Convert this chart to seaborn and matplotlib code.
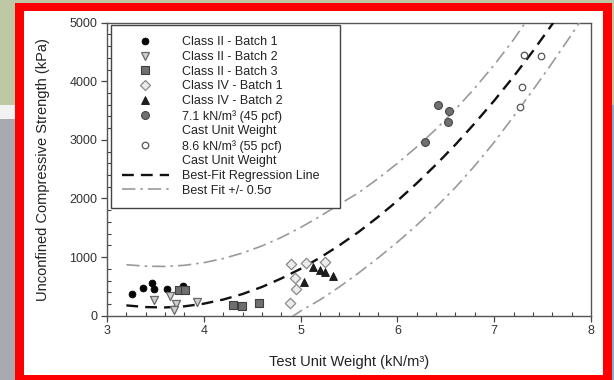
import numpy as np
import pandas as pd
import matplotlib
matplotlib.use("Agg")
import matplotlib.pyplot as plt
import seaborn as sns
from matplotlib.lines import Line2D
from matplotlib.patches import Rectangle
from matplotlib.ticker import MultipleLocator

# ---------------- data ----------------
c2b1_x = [3.26, 3.37, 3.47, 3.49, 3.62, 3.78]
c2b1_y = [372, 470, 560, 452, 450, 512]
c2b2_x = [3.49, 3.65, 3.71, 3.69, 3.93]
c2b2_y = [260, 344, 194, 100, 239]
c2b3_x = [3.74, 3.81, 4.30, 4.39, 4.57]
c2b3_y = [432, 446, 186, 170, 210]
c4b1_x = [4.90, 5.055, 5.25, 4.945, 4.955, 4.895]
c4b1_y = [885, 905, 918, 638, 460, 215]
c4b2_x = [5.03, 5.125, 5.20, 5.255, 5.335]
c4b2_y = [582, 836, 782, 750, 680]
cast71_x = [6.415, 6.528, 6.527, 6.288]
cast71_y = [3595, 3485, 3302, 2968]
cast86_x = [7.31, 7.485, 7.29, 7.268]
cast86_y = [4448, 4440, 3897, 3564]

fit_x = [3.2, 3.4, 3.6, 3.8, 4.0, 4.2, 4.4, 4.6, 4.8, 5.0, 5.2, 5.4, 5.6, 5.8,
         6.0, 6.2, 6.4, 6.6, 6.8, 7.0, 7.2, 7.4, 7.6, 7.65]
fit_y = [176, 147, 141, 160, 205, 275, 370, 490, 635, 800, 990, 1200, 1430, 1685,
         1960, 2260, 2580, 2920, 3285, 3670, 4080, 4515, 4975, 5090]
upper_x = [3.2, 3.4, 3.6, 3.8, 4.0, 4.2, 4.4, 4.6, 4.8, 5.0, 5.2, 5.4, 5.6, 5.8,
           6.0, 6.2, 6.4, 6.6, 6.8, 7.0, 7.2, 7.32, 7.35]
upper_y = [870, 845, 840, 860, 905, 975, 1070, 1190, 1335, 1505, 1695, 1900, 2100, 2340,
           2600, 2880, 3185, 3520, 3885, 4280, 4710, 5000, 5075]
lower_x = [4.90, 5.0, 5.2, 5.4, 5.6, 5.8, 6.0, 6.2, 6.4, 6.6, 6.8, 7.0, 7.2, 7.4,
           7.6, 7.8, 7.9]
lower_y = [-30, 80, 270, 490, 730, 985, 1255, 1545, 1855, 2190, 2560, 2960, 3400, 3850,
           4316, 4800, 5050]

x_ticks = [3, 4, 5, 6, 7, 8]
y_ticks = [0, 1000, 2000, 3000, 4000, 5000]

labels = ["Class II - Batch 1", "Class II - Batch 2", "Class II - Batch 3",
          "Class IV - Batch 1", "Class IV - Batch 2",
          "7.1 kN/m³ (45 pcf)", "Cast Unit Weight",
          "8.6 kN/m³ (55 pcf)", "Cast Unit Weight",
          "Best-Fit Regression Line", "Best Fit +/- 0.5σ"]

# ---------------- style ----------------
sns.set_style("white")
plt.rcParams['font.family'] = ['Liberation Sans', 'DejaVu Sans']
plt.rcParams['text.color'] = '#222222'
plt.rcParams['axes.labelcolor'] = '#222222'

W, H = 614, 380
fig = plt.figure(figsize=(W / 100, H / 100), dpi=100)
fig.patch.set_facecolor('white')

# background / frame (screenshot decoration)
bg = fig.add_axes([0, 0, 1, 1], zorder=-10)
bg.set_xlim(0, W)
bg.set_ylim(H, 0)
bg.axis('off')
green = '#bfc8a5'
bg.add_patch(Rectangle((0, 0), W, 105, color=green, lw=0))
bg.add_patch(Rectangle((0, 105), 15, 14, color='#f2f2f2', lw=0))
grad = np.array([0.66, 0.60, 0.52, 0.46, 0.44, 0.47, 0.55, 0.62, 0.60, 0.56])
bg.imshow(np.dstack([grad, grad + 0.01, grad + 0.03])[:, :1, :].repeat(2, axis=1),
          extent=(0, 15, H, 119), aspect='auto', interpolation='bilinear', zorder=1)
bg.add_patch(Rectangle((612, 105), 2, H - 105, color='#7fb0cf', lw=0, zorder=1))
bg.add_patch(Rectangle((15, 3), 597, H, color='#ff0000', lw=0, zorder=2))
bg.add_patch(Rectangle((24, 11), 579, 364, color='white', lw=0, zorder=3))

# main axes
ax = fig.add_axes([107 / W, 1 - 315.7 / H, 484 / W, 293 / H], zorder=5)
ax.set_facecolor('white')

pts = dict(legend=False, ax=ax, zorder=4)
sns.scatterplot(x=c2b1_x, y=c2b1_y, marker='o', s=24, color='#050505',
                edgecolor='#000000', linewidth=0.6, **pts)
sns.scatterplot(x=c2b2_x, y=c2b2_y, marker='v', s=34, color='#cfcfcf',
                edgecolor='#6a6a6a', linewidth=0.9, **pts)
sns.scatterplot(x=c2b3_x, y=c2b3_y, marker='s', s=30, color='#6f6f6f',
                edgecolor='#3f3f3f', linewidth=0.8, **pts)
sns.scatterplot(x=c4b1_x, y=c4b1_y, marker='D', s=28, color='#ececec',
                edgecolor='#8a8a8a', linewidth=0.9, **pts)
sns.scatterplot(x=c4b2_x, y=c4b2_y, marker='^', s=32, color='#1e1e1e',
                edgecolor='#111111', linewidth=0.6, **pts)
sns.scatterplot(x=cast71_x, y=cast71_y, marker='o', s=32, color='#707070',
                edgecolor='#454545', linewidth=0.8, **pts)
sns.scatterplot(x=cast86_x, y=cast86_y, marker='o', s=22, color='white',
                edgecolor='#555555', linewidth=0.9, **pts)

ln = dict(ax=ax, sort=False, estimator=None, legend=False, zorder=3)
sns.lineplot(x=fit_x, y=fit_y, color='#111111', linewidth=1.7, **ln)
ax.lines[-1].set_dashes([5, 3])
sns.lineplot(x=upper_x, y=upper_y, color='#9a9a9a', linewidth=1.2, **ln)
ax.lines[-1].set_dashes([8, 3, 1.5, 3])
sns.lineplot(x=lower_x, y=lower_y, color='#9a9a9a', linewidth=1.2, **ln)
ax.lines[-1].set_dashes([8, 3, 1.5, 3])

ax.set_xlim(3, 8)
ax.set_ylim(0, 5000)
ax.set_xticks(x_ticks)
ax.set_yticks(y_ticks)
ax.xaxis.set_minor_locator(MultipleLocator(0.2))
ax.yaxis.set_minor_locator(MultipleLocator(200))
ax.tick_params(which='major', direction='out', length=4, width=0.9, color='#444444',
               labelsize=9, labelcolor='#333333', pad=3, bottom=True, left=True)
ax.tick_params(which='minor', direction='in', length=3, width=0.8, color='#444444',
               bottom=True, left=True)
for s in ax.spines.values():
    s.set_visible(True)
    s.set_color('#555555')
    s.set_linewidth(1.0)

ax.set_xlabel("Test Unit Weight (kN/m³)", fontsize=10.5)
ax.set_ylabel("Unconfined Compressive Strength (kPa)", fontsize=10.5)
ax.xaxis.set_label_coords(0.5, -0.135)
ax.yaxis.set_label_coords(-0.118, 0.5)

# legend
handles = [
    Line2D([], [], ls='none', marker='o', ms=np.sqrt(24), mfc='#050505', mec='#000000', mew=0.6),
    Line2D([], [], ls='none', marker='v', ms=np.sqrt(34), mfc='#cfcfcf', mec='#6a6a6a', mew=0.9),
    Line2D([], [], ls='none', marker='s', ms=np.sqrt(30), mfc='#6f6f6f', mec='#3f3f3f', mew=0.8),
    Line2D([], [], ls='none', marker='D', ms=np.sqrt(28), mfc='#ececec', mec='#8a8a8a', mew=0.9),
    Line2D([], [], ls='none', marker='^', ms=np.sqrt(32), mfc='#1e1e1e', mec='#111111', mew=0.6),
    Line2D([], [], ls='none', marker='o', ms=np.sqrt(32), mfc='#707070', mec='#454545', mew=0.8),
    Line2D([], [], ls='none'),
    Line2D([], [], ls='none', marker='o', ms=np.sqrt(22), mfc='white', mec='#555555', mew=0.9),
    Line2D([], [], ls='none'),
    Line2D([], [], color='#111111', lw=1.7, dashes=[5, 3]),
    Line2D([], [], color='#9a9a9a', lw=1.2, dashes=[8, 3, 1.5, 3]),
]
leg = ax.legend(handles, labels, loc='upper left',
                bbox_to_anchor=(4 / 484, 0.3785, 229 / 484, 0.6135), mode='expand',
                fontsize=9, frameon=True, fancybox=False, edgecolor='#444444',
                framealpha=1, borderpad=0.9, labelspacing=0.215, handlelength=3.7,
                handletextpad=1.07, borderaxespad=0)
leg.get_frame().set_linewidth(1.0)

fig.savefig("out.png", dpi=100)
